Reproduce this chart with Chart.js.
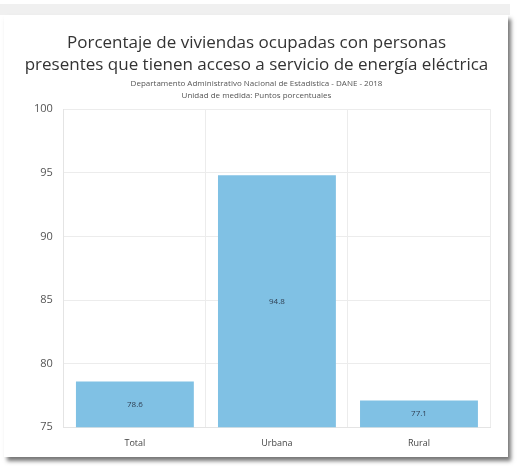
<!DOCTYPE html>
<html lang="es">

<head>
  <meta charset="UTF-8">
  <title>Viviendas con energía eléctrica</title>
  <script src="https://cdn.jsdelivr.net/npm/chart.js"></script>
  <style>
    html, body { margin: 0; padding: 0; background: #fff; }
    #band { position: absolute; left: 0; top: 4px; width: 510px; height: 11px; background: #f0f0f0; }
    #card {
      position: absolute; left: 4px; top: 15px; width: 504px; height: 442px;
      background: #fff; box-shadow: 3px 4px 4px #777;
    }
    #wrap { position: absolute; left: 0; top: 0; width: 517px; height: 466px; }
  </style>
</head>

<body>
  <div id="band"></div>
  <div id="card"></div>
  <div id="wrap"><canvas id="bars"></canvas></div>

  <script>
    const categories = ["Total", "Urbana", "Rural"];
    const values = [78.6, 94.8, 77.1];
    const valueLabels = ["78.6", "94.8", "77.1"];
    const yTicks = [75, 80, 85, 90, 95, 100];

    const titleLines = ["Porcentaje de viviendas ocupadas con personas",
      "presentes que tienen acceso a servicio de energía eléctrica"];
    const subtitleLines = ["Departamento Administrativo Nacional de Estadística - DANE - 2018",
      "Unidad de medida: Puntos porcentuales"];

    const fontFam = "'Open Sans', 'Noto Sans', sans-serif";

    // etiquetas de valor dentro de cada barra
    const barLabels = {
      id: "barLabels",
      afterDraw(chart) {
        const ctx = chart.ctx;
        const meta = chart.getDatasetMeta(0);
        const yScale = chart.scales.y;
        ctx.save();
        ctx.font = "8px " + fontFam;
        ctx.fillStyle = "#2f3f52";
        ctx.textAlign = "center";
        ctx.textBaseline = "middle";
        meta.data.forEach((bar, i) => {
          const p = bar.getProps(["x", "y"], true);
          const mid = (p.y + yScale.bottom) / 2;
          ctx.fillText(valueLabels[i], p.x, mid);
        });
        ctx.restore();
      }
    };

    new Chart(document.getElementById("bars"), {
      type: "bar",
      data: {
        labels: categories,
        datasets: [{
          data: values,
          backgroundColor: "#80c1e4",
          barPercentage: 0.83,
          categoryPercentage: 1.0
        }]
      },
      options: {
        responsive: true,
        maintainAspectRatio: false,
        animation: false,
        layout: { padding: { left: 23, right: 27, top: 32, bottom: 6 } },
        plugins: {
          legend: { display: false },
          tooltip: { enabled: false },
          title: {
            display: true,
            text: titleLines,
            color: "#333",
            font: { family: fontFam, size: 17, weight: "normal", lineHeight: 1.3 },
            padding: { top: 0, bottom: 2 }
          },
          subtitle: {
            display: true,
            text: subtitleLines,
            color: "#555",
            font: { family: fontFam, size: 8, lineHeight: 1.5 },
            padding: { top: 0, bottom: 7 }
          }
        },
        scales: {
          x: {
            grid: { offset: true, color: "#ececec", drawTicks: false },
            border: { color: "#e4e4e4" },
            ticks: { color: "#444", font: { family: fontFam, size: 9 }, padding: 11 }
          },
          y: {
            min: 75,
            max: 100,
            afterBuildTicks(axis) { axis.ticks = yTicks.map(v => ({ value: v })); },
            grid: { color: "#ececec", drawTicks: false },
            border: { color: "#e4e4e4" },
            ticks: { color: "#555", font: { family: fontFam, size: 11 }, padding: 11 }
          }
        }
      },
      plugins: [barLabels]
    });
  </script>
</body>

</html>
